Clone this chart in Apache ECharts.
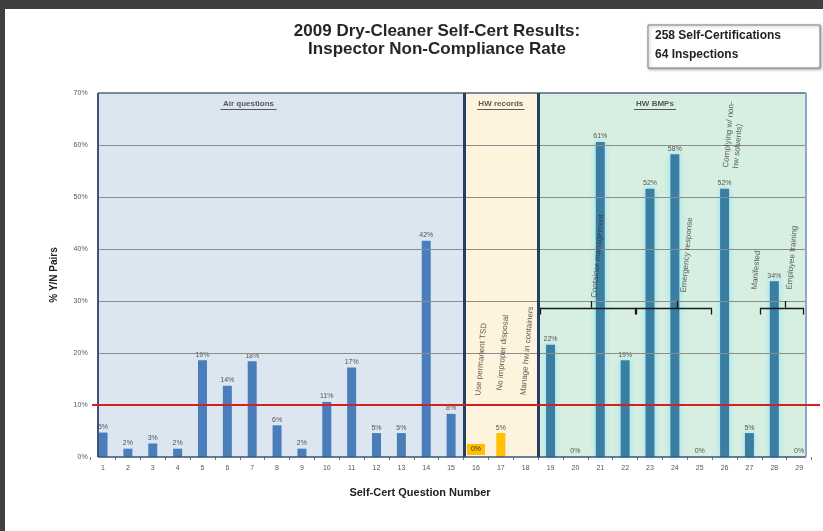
<!DOCTYPE html>
<html><head><meta charset="utf-8">
<script src="https://cdn.jsdelivr.net/npm/echarts@6/dist/echarts.min.js"></script>
<style>
html,body{margin:0;padding:0;background:#fff;}
#c{position:absolute;left:0;top:0;width:823px;height:531px;}
.fr{position:absolute;background:#3f3f3f;}
</style></head><body>
<div id="c"></div>
<div class="fr" style="left:0;top:0;width:823px;height:9px"></div>
<div class="fr" style="left:0;top:0;width:5px;height:531px"></div>
<script>
// ---------- data ----------
const categories = ['1','2','3','4','5','6','7','8','9','10','11','12','13','14','15','16','17','18','19','20','21','22','23','24','25','26','27','28','29'];
const rates = [4.7,1.6,2.6,1.6,18.6,13.7,18.4,6.1,1.6,10.6,17.2,4.6,4.6,41.6,8.3,0,4.6,null,21.6,0,60.6,18.6,51.6,58.2,0,51.6,4.6,33.8,0];
const groupNames = ['Air questions','HW records','HW BMPs'];
const groupFirstQuestion = [1, 16, 19];
const yTickValues = [0,10,20,30,40,50,60,70];
const threshold = 10;
const titleLines = ['2009 Dry-Cleaner Self-Cert Results:', 'Inspector Non-Compliance Rate'];
const infoLines = ['258 Self-Certifications', '64 Inspections'];
const annotationTexts = ['Use permanent TSD','No improper disposal','Manage hw in containers','Container management','Emergency response','Complying w/ non-\nhw solvents)','Manifested','Employee training'];
const yAxisTitle = '% Y/N Pairs';
const xAxisTitle = 'Self-Cert Question Number';

// ---------- layout / style ----------
const annotationAnchors = [[16.08,11.8],[16.95,12.8],[17.9,11.9],[20.75,30.6],[24.35,31.6],[26.25,55.6],[27.2,32.2],[28.6,32.2]];
const groupTitleX = [6.85, 17.0, 23.2];
const groupTitleUnderline = [[5.72,7.98],[16.05,17.95],[22.35,24.05]];
const brackets = [[18.6,22.4,20.65],[22.45,25.45,24.1],[27.45,29.15,28.45]];
const barColors = ['#4a7ebb','#ffc000','#3a7ea3'];
const regionColors = ['#dce6f1','#fef3dc','#d7efe1'];
const plotLeft = 0.8, plotRight = 29.28;

function groupOf(q){ let g=0; for(let i=0;i<groupFirstQuestion.length;i++){ if(q>=groupFirstQuestion[i]) g=i; } return g; }
const seps = groupFirstQuestion.slice(1).map(q => q - 0.48);
const bounds = [plotLeft].concat(seps, [plotRight]);

const barData = rates.map((v,i)=>{
  const g = groupOf(i+1);
  const item = {value: v, itemStyle:{color: barColors[g]}};
  if (g === 2) { item.itemStyle.shadowBlur = 6; item.itemStyle.shadowColor = 'rgba(140,225,250,0.95)'; }
  if (g === 1 && v === 0) { item.label = {backgroundColor:'#ffc000', padding:[2,4], color:'#333'}; }
  return item;
});

const gridLines = yTickValues.filter(v=>v>0 && v<70).map(v=>[{coord:[plotLeft,v]},{coord:[plotRight,v]}]);
const borderLines = [
  [{coord:[plotLeft,70]},{coord:[plotRight,70],lineStyle:{color:'#54667f',width:1.5}}],
  [{coord:[plotLeft,0]},{coord:[plotLeft,70],lineStyle:{color:'#3c5575',width:2}}],
  [{coord:[plotLeft,0]},{coord:[plotRight,0],lineStyle:{color:'#3c5575',width:1.5}}],
  [{coord:[plotRight,0]},{coord:[plotRight,70],lineStyle:{color:'#8ea6d6',width:2}}]
].concat(seps.map(s=>[{coord:[s,0]},{coord:[s,70],lineStyle:{color:'#243f64',width:3}}]));

const bracketLines = [];
brackets.forEach(b=>{
  const y=28.7, yd=27.4, yu=30.0;
  bracketLines.push([{coord:[b[0],y]},{coord:[b[1],y]}]);
  bracketLines.push([{coord:[b[0],y]},{coord:[b[0],yd]}]);
  bracketLines.push([{coord:[b[1],y]},{coord:[b[1],yd]}]);
  bracketLines.push([{coord:[b[2],y]},{coord:[b[2],yu]}]);
});
groupTitleUnderline.forEach(u=>{
  bracketLines.push([{coord:[u[0],66.9],lineStyle:{color:'#333',width:0.8}},{coord:[u[1],66.9]}]);
});

const hidden = {color:'rgba(0,0,0,0)'};
const chart = echarts.init(document.getElementById('c'));
const option = {
  backgroundColor:'#ffffff',
  animation:false,
  grid:{left:90.6, right:11.4, top:93, bottom:74},
  xAxis:[
    {type:'category', data:categories, gridIndex:0,
     axisLine:{show:false}, axisTick:{show:true, length:3, lineStyle:{color:'#777'}},
     axisLabel:{fontSize:7, color:'#555', margin:8, fontFamily:'Liberation Sans'},
     splitLine:{show:false}},
    {type:'value', min:0.5, max:29.5, show:false, gridIndex:0}
  ],
  yAxis:[{type:'value', min:0, max:70, interval:10,
    axisLabel:{formatter:'{value}%', fontSize:7, color:'#555', margin:3, fontFamily:'Liberation Sans'},
    axisLine:{show:false}, axisTick:{show:false}, splitLine:{show:false},
    name:yAxisTitle, nameLocation:'middle', nameGap:31, nameRotate:90,
    nameTextStyle:{fontSize:10, fontWeight:'bold', color:'#222', fontFamily:'Liberation Sans'}}],
  series:[
    {type:'line', xAxisIndex:1, yAxisIndex:0, data:[], z:1, silent:true,
     markArea:{silent:true, data: regionColors.map((c,i)=>[{coord:[bounds[i],0], itemStyle:{color:c}},{coord:[bounds[i+1],70]}])},
     markLine:{silent:true, symbol:'none', label:{show:false}, lineStyle:{color:'#8c8c8c', width:1, type:'solid'}, data: gridLines}
    },
    {type:'bar', xAxisIndex:0, yAxisIndex:0, data:barData, barWidth:9, z:3,
     label:{show:true, position:'top', distance:2, fontSize:7, color:'#555', fontFamily:'Liberation Sans',
       formatter:p=> (p.value==null? '' : Math.round(p.value)+'%')}},
    {type:'line', xAxisIndex:1, yAxisIndex:0, data:[], z:5, silent:true,
     markLine:{silent:true, symbol:'none', label:{show:false}, lineStyle:{color:'#1a1a1a', width:1.3, type:'solid'},
       data: borderLines.concat(bracketLines)}},
    {type:'scatter', xAxisIndex:1, yAxisIndex:0, z:6, silent:true, symbolSize:1, itemStyle:hidden,
     data: annotationTexts.map((t,i)=>({name:t, value:annotationAnchors[i]})),
     label:{show:true, formatter:'{b}', rotate:85, position:'inside', align:'left', verticalAlign:'middle',
       fontSize:8, color:'#333', lineHeight:10, fontFamily:'Liberation Sans'}},
    {type:'scatter', xAxisIndex:1, yAxisIndex:0, z:6, silent:true, symbolSize:1, itemStyle:hidden,
     data: groupNames.map((t,i)=>({name:t, value:[groupTitleX[i], 68.0]})),
     label:{show:true, formatter:'{b}', position:'inside', fontSize:8, fontWeight:'bold', color:'#333', fontFamily:'Liberation Sans'}}
  ],
  graphic:[
    {type:'text', x:437, y:31, style:{text:titleLines[0], font:'bold 17px "Liberation Sans"', fill:'#262626', align:'center', verticalAlign:'middle'}},
    {type:'text', x:437, y:49, style:{text:titleLines[1], font:'bold 17px "Liberation Sans"', fill:'#262626', align:'center', verticalAlign:'middle'}},
    {type:'rect', shape:{x:648, y:25, width:172, height:43}, style:{fill:'#fff', stroke:'#808080', lineWidth:1, shadowBlur:3, shadowColor:'rgba(0,0,0,0.35)', shadowOffsetX:1, shadowOffsetY:1}},
    {type:'text', x:655, y:36, style:{text:infoLines[0], font:'bold 12px "Liberation Sans"', fill:'#222', verticalAlign:'middle'}},
    {type:'text', x:655, y:55, style:{text:infoLines[1], font:'bold 12px "Liberation Sans"', fill:'#222', verticalAlign:'middle'}},
    {type:'text', x:420, y:493, style:{text:xAxisTitle, font:'bold 11px "Liberation Sans"', fill:'#222', align:'center', verticalAlign:'middle'}}
  ]
};
chart.setOption(option);
const yRed = chart.convertToPixel({yAxisIndex:0}, threshold);
chart.setOption({graphic: option.graphic.concat([{type:'line', z:100, shape:{x1:92, y1:yRed, x2:820, y2:yRed}, style:{stroke:'#d42020', lineWidth:2}}])});
</script></body></html>
